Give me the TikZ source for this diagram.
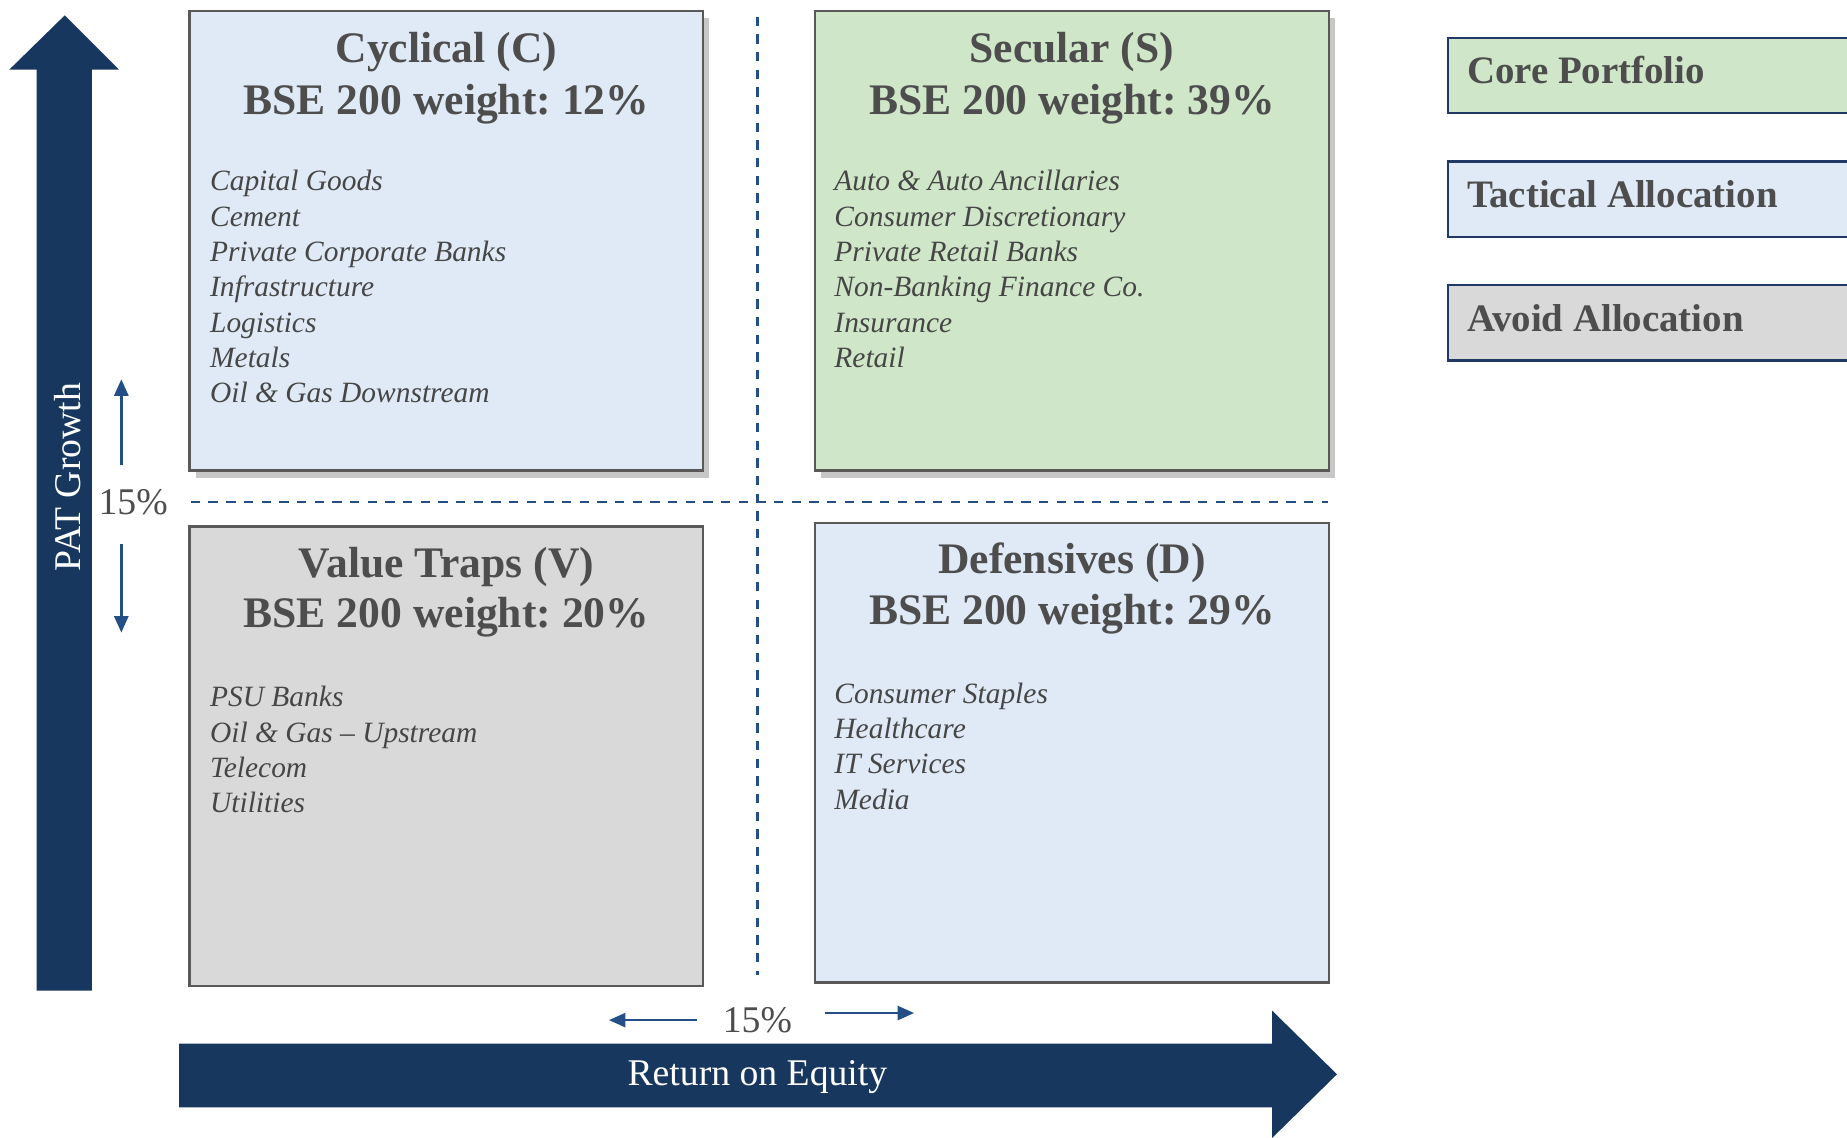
\documentclass[tikz,border=0pt]{standalone}
\usepackage{fontspec}
\setmainfont{Liberation Serif}
\usetikzlibrary{shadows,arrows.meta}
\definecolor{navy}{RGB}{23,55,94}
\definecolor{dashblue}{RGB}{36,78,134}
\definecolor{lblue}{RGB}{223,234,246}
\definecolor{lgreen}{RGB}{207,231,200}
\definecolor{lgray}{RGB}{217,217,217}
\definecolor{bordergray}{RGB}{89,89,89}
\definecolor{titlegray}{RGB}{77,77,77}
\definecolor{itemgray}{RGB}{70,70,70}
\definecolor{legborder}{RGB}{31,56,100}
\frenchspacing
\tikzset{
  quad/.style={draw=bordergray, line width=1pt, minimum width=218pt, minimum height=195pt, inner sep=0pt},
  shad/.style={drop shadow={shadow xshift=2.5pt, shadow yshift=-3pt, fill=black, opacity=0.22}},
  qtitle/.style={font=\fontsize{18.5}{22}\selectfont\bfseries, text=titlegray, anchor=base, inner sep=0pt},
  item/.style={font=\fontsize{12.5}{15}\selectfont\itshape, text=itemgray, anchor=base west, inner sep=0pt},
  legbox/.style={draw=legborder, line width=1pt, anchor=west, minimum width=176pt, minimum height=32pt, inner sep=0pt},
  legtext/.style={anchor=base west, inner sep=0pt, font=\fontsize{16.5}{20}\selectfont\bfseries, text=titlegray},
  axislabel/.style={font=\fontsize{16}{19}\selectfont, text=white},
  pct/.style={font=\fontsize{16}{19}\selectfont, text=titlegray, inner sep=0pt},
  thin arrow/.style={draw=dashblue, line width=1pt, -{Triangle[length=7pt,width=6pt]}},
  divider/.style={draw=dashblue, line width=1pt, dash pattern=on 4pt off 3.5pt}
}
\begin{document}
\begin{tikzpicture}[x=0.5pt,y=-0.5pt]
\useasboundingbox (0,0) rectangle (1568,966);
\clip (0,0) rectangle (1568,966);

% axes
\fill[navy] (31,841) -- (31,59) -- (8,59) -- (55,13) -- (101,59) -- (78,59) -- (78,841) -- cycle;
\fill[navy] (152,886) -- (1080,886) -- (1080,858) -- (1135,912) -- (1080,966) -- (1080,940) -- (152,940) -- cycle;
\node[axislabel, rotate=90] (pat) at (57,405) {PAT Growth};
\node[axislabel] (roe) at (643,914) {Return on Equity};

% dividers
\coordinate (hl) at (162,426);
\coordinate (hr) at (1127,426);
\coordinate (vt) at (643,14);
\coordinate (vb) at (643,828);
\draw[divider] (hl) -- (hr);
\draw[divider] (vt) -- (vb);

% threshold labels and arrows
\node[pct] (py) at (113,426) {15\%};
\coordinate (ua0) at (103,395); \coordinate (ua1) at (103,322);
\coordinate (da0) at (103,462); \coordinate (da1) at (103,537);
\draw[thin arrow] (ua0) -- (ua1);
\draw[thin arrow] (da0) -- (da1);
\node[pct] (px) at (643,866) {15\%};
\coordinate (la0) at (592,866); \coordinate (la1) at (517,866);
\coordinate (ra0) at (700,860); \coordinate (ra1) at (776,860);
\draw[thin arrow] (la0) -- (la1);
\draw[thin arrow] (ra0) -- (ra1);

% quadrants
\node[quad, shad, fill=lblue] (cyc) at (379,204.5) {};
\node[quad, shad, fill=lgreen] (sec) at (910,204.5) {};
\node[quad, fill=lgray] (val) at (379,642) {};
\node[quad, fill=lblue] (def) at (910,639) {};

\node[qtitle] (cyct1) at (379,53) {Cyclical (C)};
\node[qtitle] (cyct2) at (379,97) {BSE 200 weight: 12\%};
\node[qtitle] (sect1) at (910,53) {Secular (S)};
\node[qtitle] (sect2) at (910,97) {BSE 200 weight: 39\%};
\node[qtitle] (valt1) at (379,490) {Value Traps (V)};
\node[qtitle] (valt2) at (379,533) {BSE 200 weight: 20\%};
\node[qtitle] (deft1) at (910,487) {Defensives (D)};
\node[qtitle] (deft2) at (910,530) {BSE 200 weight: 29\%};

\foreach \t [count=\i] in {Capital Goods, Cement, Private Corporate Banks, Infrastructure, Logistics, Metals, Oil \& Gas Downstream}
  \node[item, name=ci\i] at (178,{162+30*(\i-1)}) {\t};
\foreach \t [count=\i] in {Auto \& Auto Ancillaries, Consumer Discretionary, Private Retail Banks, Non-Banking Finance Co., Insurance, Retail}
  \node[item, name=si\i] at (708,{162+30*(\i-1)}) {\t};
\foreach \t [count=\i] in {PSU Banks, Oil \& Gas -- Upstream, Telecom, Utilities}
  \node[item, name=vi\i] at (178,{600+30*(\i-1)}) {\t};
\foreach \t [count=\i] in {Consumer Staples, Healthcare, IT Services, Media}
  \node[item, name=di\i] at (708,{597+30*(\i-1)}) {\t};

% legend
\node[legbox, fill=lgreen] (core) at (1228,64) {};
\node[legbox, fill=lblue] (tact) at (1228,169) {};
\node[legbox, fill=lgray] (avoid) at (1228,274) {};
\node[legtext] (coret) at (1245,71) {Core Portfolio};
\node[legtext] (tactt) at (1245,176) {Tactical Allocation};
\node[legtext] (avoidt) at (1245,281) {Avoid Allocation};
\end{tikzpicture}
\end{document}
